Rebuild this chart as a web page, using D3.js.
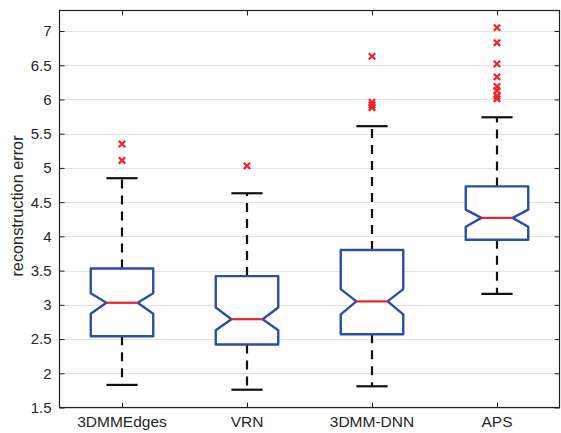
<!DOCTYPE html>
<html lang="en">
<head>
    <meta charset="UTF-8">
    <title>Reconstruction error boxplot</title>
    <script src="https://cdnjs.cloudflare.com/ajax/libs/d3/7.8.5/d3.min.js"></script>
    <style>
        body { margin: 0; background: #fff; }
        svg { display: block; font-family: "Liberation Sans", Arial, sans-serif; }
    </style>
</head>
<body>
    <div id="chart"></div>

    <script>
    // values
    const methods   = ["3DMMEdges", "VRN", "3DMM-DNN", "APS"];
    const q1        = [2.54, 2.42, 2.57, 3.95];
    const medians   = [3.03, 2.79, 3.05, 4.27];
    const q3        = [3.53, 3.42, 3.80, 4.73];
    const notchLo   = [2.87, 2.63, 2.86, 4.14];
    const notchHi   = [3.17, 2.96, 3.23, 4.39];
    const whiskLo   = [1.83, 1.76, 1.81, 3.16];
    const whiskHi   = [4.85, 4.63, 5.61, 5.74];
    const outliers  = [
        [5.35, 5.11],
        [5.03],
        [6.63, 5.96, 5.92, 5.88],
        [7.05, 6.83, 6.52, 6.33, 6.19, 6.13, 6.05, 6.01]
    ];
    const yTicks = [1.5, 2, 2.5, 3, 3.5, 4, 4.5, 5, 5.5, 6, 6.5, 7];

    const W = 561, H = 433;
    const m = {left: 59.5, right: 559.5, top: 10.5, bottom: 407.5};

    const svg = d3.select("#chart").append("svg")
        .attr("width", W)
        .attr("height", H);

    const x = d3.scaleLinear().domain([0.5, 4.5]).range([m.left, m.right]);
    const y = d3.scaleLinear().domain([1.5, 7.3]).range([m.bottom, m.top]);

    // grid
    svg.append("g")
        .selectAll("line")
        .data(yTicks)
        .join("line")
        .attr("x1", m.left).attr("x2", m.right)
        .attr("y1", d => Math.round(y(d)) + 0.5)
        .attr("y2", d => Math.round(y(d)) + 0.5)
        .attr("stroke", "#e3e3e3")
        .attr("stroke-width", 1);

    // axes (ticks pointing inward, matlab style)
    svg.append("g")
        .attr("transform", `translate(${m.left},0)`)
        .call(d3.axisRight(y).tickValues(yTicks).tickSize(5).tickFormat(""))
        .call(g => g.select(".domain").remove())
        .selectAll("line").attr("stroke", "#222");

    svg.append("g")
        .attr("transform", `translate(${m.right},0)`)
        .call(d3.axisLeft(y).tickValues(yTicks).tickSize(5).tickFormat(""))
        .call(g => g.select(".domain").remove())
        .selectAll("line").attr("stroke", "#222");

    svg.append("g")
        .attr("transform", `translate(0,${m.bottom})`)
        .call(d3.axisTop(x).tickValues([1, 2, 3, 4]).tickSize(5).tickFormat(""))
        .call(g => g.select(".domain").remove())
        .selectAll("line").attr("stroke", "#222");

    svg.append("g")
        .attr("transform", `translate(0,${m.top})`)
        .call(d3.axisBottom(x).tickValues([1, 2, 3, 4]).tickSize(5).tickFormat(""))
        .call(g => g.select(".domain").remove())
        .selectAll("line").attr("stroke", "#222");

    // tick labels
    svg.append("g")
        .selectAll("text")
        .data(yTicks)
        .join("text")
        .attr("x", m.left - 8)
        .attr("y", d => y(d))
        .attr("dy", "0.36em")
        .attr("text-anchor", "end")
        .attr("font-size", 15)
        .attr("fill", "#262626")
        .text(d => d3.format("")(d));

    svg.append("g")
        .selectAll("text")
        .data(methods)
        .join("text")
        .attr("x", (d, i) => x(i + 1))
        .attr("y", 427)
        .attr("text-anchor", "middle")
        .attr("font-size", 15.5)
        .attr("fill", "#262626")
        .text(d => d);

    svg.append("text")
        .attr("transform", `translate(23,206) rotate(-90)`)
        .attr("text-anchor", "middle")
        .attr("font-size", 16.3)
        .attr("fill", "#262626")
        .text("reconstruction error");

    // frame
    svg.append("rect")
        .attr("x", m.left).attr("y", m.top)
        .attr("width", m.right - m.left).attr("height", m.bottom - m.top)
        .attr("fill", "none")
        .attr("stroke", "#222")
        .attr("stroke-width", 1.2);

    // boxes
    const halfBox = (x(1.25) - x(1));
    const halfNotch = halfBox / 2;
    const halfCap = halfBox / 2;

    const boxes = svg.append("g")
        .selectAll("g")
        .data(methods.map((name, i) => ({
            i, q1: q1[i], med: medians[i], q3: q3[i],
            nlo: notchLo[i], nhi: notchHi[i],
            wlo: whiskLo[i], whi: whiskHi[i], out: outliers[i]
        })))
        .join("g");

    // dashed whiskers
    boxes.append("line")
        .attr("x1", d => x(d.i + 1)).attr("x2", d => x(d.i + 1))
        .attr("y1", d => y(d.q3)).attr("y2", d => y(d.whi))
        .attr("stroke", "#111").attr("stroke-width", 2.2)
        .attr("stroke-dasharray", "9,7");
    boxes.append("line")
        .attr("x1", d => x(d.i + 1)).attr("x2", d => x(d.i + 1))
        .attr("y1", d => y(d.q1)).attr("y2", d => y(d.wlo))
        .attr("stroke", "#111").attr("stroke-width", 2.2)
        .attr("stroke-dasharray", "9,7");

    // whisker caps
    ["whi", "wlo"].forEach(k => {
        boxes.append("line")
            .attr("x1", d => x(d.i + 1) - halfCap)
            .attr("x2", d => x(d.i + 1) + halfCap)
            .attr("y1", d => y(d[k])).attr("y2", d => y(d[k]))
            .attr("stroke", "#111").attr("stroke-width", 2.2);
    });

    // notched box outline
    boxes.append("path")
        .attr("d", d => {
            const c = x(d.i + 1);
            const pts = [
                [c - halfBox, y(d.q3)], [c + halfBox, y(d.q3)],
                [c + halfBox, y(d.nhi)], [c + halfNotch, y(d.med)],
                [c + halfBox, y(d.nlo)], [c + halfBox, y(d.q1)],
                [c - halfBox, y(d.q1)], [c - halfBox, y(d.nlo)],
                [c - halfNotch, y(d.med)], [c - halfBox, y(d.nhi)]
            ];
            return d3.line()(pts) + "Z";
        })
        .attr("fill", "white")
        .attr("stroke", "#2d4ea6")
        .attr("stroke-width", 2.4)
        .attr("stroke-linejoin", "round");

    // median
    boxes.append("line")
        .attr("x1", d => x(d.i + 1) - halfNotch)
        .attr("x2", d => x(d.i + 1) + halfNotch)
        .attr("y1", d => y(d.med)).attr("y2", d => y(d.med))
        .attr("stroke", "#f2202a").attr("stroke-width", 2.2);

    // outliers as red x
    const s = 3.2;
    boxes.selectAll("path.out")
        .data(d => d.out.map(v => ({ v, c: x(d.i + 1) })))
        .join("path")
        .attr("class", "out")
        .attr("d", o => {
            const cy = y(o.v);
            return `M${o.c - s},${cy - s}L${o.c + s},${cy + s}M${o.c - s},${cy + s}L${o.c + s},${cy - s}`;
        })
        .attr("stroke", "#f2202a")
        .attr("stroke-width", 2.2);
    </script>
</body>
</html>
